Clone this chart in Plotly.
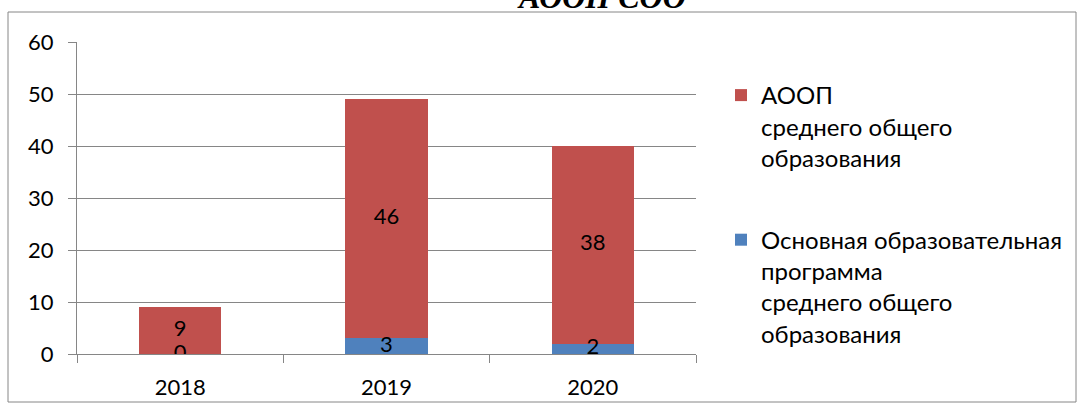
import plotly.graph_objects as go

years = ["2018", "2019", "2020"]
main_prog = [0, 3, 2]
aoop = [9, 46, 38]
name_main = "Основная образовательная<br>программа<br>среднего общего<br>образования"
name_aoop = "АООП<br>среднего общего<br>образования"
title_text = "АООП СОО"
y_ticks = [0, 10, 20, 30, 40, 50, 60]

W, H = 1086, 413
L, R, T, B = 77, 696, 42, 354
pw, ph = R - L, B - T

def px_x(x):
    return (x - L) / pw

def px_y(y):
    return (B - y) / ph

FONT = "Lato, 'Noto Sans', sans-serif"
GRAY = "#868686"

fig = go.Figure()
fig.add_trace(go.Bar(x=years, y=main_prog, name=name_main, marker_color="#4F81BD",
                     marker_line_width=0, legendgroup="a", legendrank=2))
fig.add_trace(go.Bar(x=years, y=aoop, name=name_aoop, marker_color="#C0504D",
                     marker_line_width=0, legendgroup="b", legendrank=1))

# data labels centered in each segment
lab_y = [m / 2 for m in main_prog] + [m + a / 2 for m, a in zip(main_prog, aoop)]
lab_t = [str(v) for v in main_prog] + [str(v) for v in aoop]
fig.add_trace(go.Scatter(x=years + years, y=lab_y, text=lab_t, mode="text",
                         textfont=dict(family=FONT, size=22, color="black"),
                         showlegend=False, hoverinfo="skip"))

fig.update_layout(
    width=W, height=H,
    margin=dict(l=L, r=W - R, t=T, b=H - B, pad=0),
    barmode="stack", bargap=0.6,
    plot_bgcolor="white", paper_bgcolor="white",
    font=dict(family=FONT, size=22, color="black"),
    showlegend=True,
    legend=dict(x=px_x(721), y=px_y(73), xanchor="left", yanchor="top",
                traceorder="grouped", tracegroupgap=48, valign="top",
                font=dict(family=FONT, size=24, color="black")),
    xaxis=dict(showline=True, linecolor=GRAY, linewidth=1, ticks="outside",
               tickson="boundaries", ticklen=8, tickcolor=GRAY, showgrid=False,
               tickfont=dict(size=22), ticklabelstandoff=14, automargin=False),
    yaxis=dict(range=[0, 60], tickvals=y_ticks, showline=True, linecolor=GRAY,
               linewidth=1, ticks="outside", ticklen=8, tickcolor=GRAY,
               showgrid=True, gridcolor=GRAY, gridwidth=1, zeroline=False,
               tickfont=dict(size=22), ticklabelstandoff=10, automargin=False),
    shapes=[dict(type="rect", xref="paper", yref="paper",
                 x0=px_x(8), x1=px_x(1076), y0=px_y(402), y1=px_y(12),
                 line=dict(color=GRAY, width=1), fillcolor="rgba(0,0,0,0)")],
    annotations=[dict(text="<b><i>" + title_text + "</i></b>", xref="paper", yref="paper",
                      x=px_x(601), y=px_y(17), xanchor="center", yanchor="bottom",
                      showarrow=False,
                      font=dict(family="Liberation Serif", size=32, color="black"))],
)

fig.write_html("out.html", post_script="document.body.style.margin='0px';",
               config={"displayModeBar": False})
